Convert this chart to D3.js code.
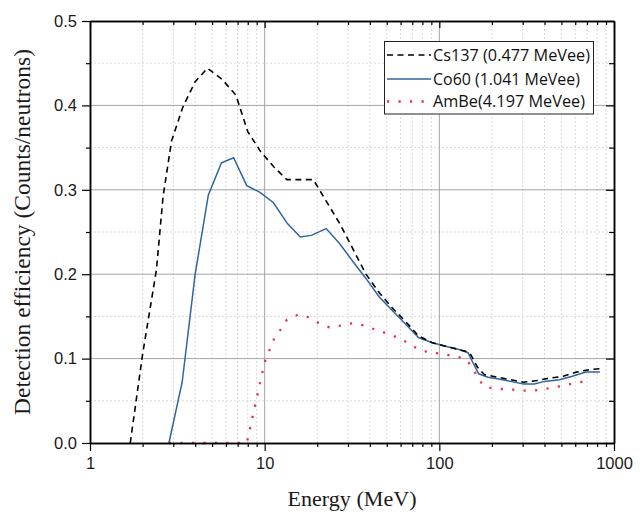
<!DOCTYPE html>
<html>
<head>
<meta charset="utf-8">
<script src="https://cdn.jsdelivr.net/npm/d3@7/dist/d3.min.js"></script>
<style>
  html, body { margin: 0; padding: 0; background: #fff; }
  svg { display: block; }
</style>
</head>
<body>
<svg id="chart" width="644" height="523"></svg>
<script>
// ---------------- data ----------------
const seriesNames = ["Cs137 (0.477 MeVee)", "Co60 (1.041 MeVee)", "AmBe(4.197 MeVee)"];

const csEnergy = [1.7, 2.0, 2.4, 2.62, 2.93, 3.4, 4.0, 4.7, 5.7, 6.85, 8.0, 9.5, 11.3, 13.4, 19.0, 22.6, 26.9, 32, 38, 45.3, 53.8, 64, 76, 90.5, 107, 128, 145, 152, 165, 181, 215, 256, 304, 362, 430, 512, 609, 724, 830];
const csEff    = [0, 0.105, 0.205, 0.292, 0.358, 0.398, 0.428, 0.444, 0.431, 0.412, 0.369, 0.345, 0.327, 0.312, 0.312, 0.286, 0.260, 0.230, 0.200, 0.178, 0.160, 0.144, 0.127, 0.119, 0.115, 0.111, 0.108, 0.104, 0.090, 0.081, 0.078, 0.075, 0.072, 0.074, 0.077, 0.079, 0.084, 0.087, 0.088];

const coEnergy = [2.83, 3.37, 4.0, 4.76, 5.66, 6.64, 7.9, 9.4, 11.2, 13.5, 16.0, 18.5, 22.5, 26.9, 32, 38, 45.3, 53.8, 64, 76, 90.5, 107, 128, 146, 155, 168, 190, 215, 256, 304, 350, 400, 487, 577, 690, 830];
const coEff    = [0, 0.072, 0.200, 0.294, 0.332, 0.338, 0.305, 0.297, 0.285, 0.260, 0.244, 0.246, 0.254, 0.236, 0.215, 0.195, 0.173, 0.157, 0.141, 0.125, 0.119, 0.115, 0.111, 0.107, 0.096, 0.082, 0.078, 0.076, 0.073, 0.070, 0.070, 0.073, 0.075, 0.079, 0.084, 0.084];

const abEnergy = [2.83, 7.9, 10.0, 11.3, 12.3, 13.4, 15.5, 17.8, 20.4, 23.5, 27, 32, 37.3, 43.4, 50, 57.6, 66.8, 76, 88, 103, 120, 140, 155, 165, 180, 210, 250, 292, 343, 400, 458, 540, 630, 740];
const abEff    = [0, 0, 0.096, 0.123, 0.134, 0.146, 0.152, 0.149, 0.142, 0.137, 0.139, 0.142, 0.139, 0.134, 0.130, 0.125, 0.118, 0.111, 0.107, 0.106, 0.103, 0.100, 0.090, 0.078, 0.067, 0.064, 0.064, 0.062, 0.062, 0.064, 0.066, 0.069, 0.072, 0.074];

const xMajorTicks = [1, 10, 100, 1000];
const xMinorTicks = [2,3,4,5,6,7,8,9,20,30,40,50,60,70,80,90,200,300,400,500,600,700,800,900];
const yMajorTicks = [0, 0.1, 0.2, 0.3, 0.4, 0.5];
const yMinorTicks = [0.05, 0.15, 0.25, 0.35, 0.45];

const xTitle = "Energy (MeV)";
const yTitle = "Detection efficiency (Counts/neutrons)";

// ---------------- layout ----------------
const L = 90, R = 614, T = 21, B = 443;
const svg = d3.select("#chart");
svg.append("rect").attr("width", 644).attr("height", 523).attr("fill", "#fff");

const x = d3.scaleLog().domain([1, 1000]).range([L, R]);
const y = d3.scaleLinear().domain([0, 0.5]).range([B, T]);

// grid
const grid = svg.append("g");
grid.selectAll(".vmin").data(xMinorTicks).enter().append("line")
  .attr("x1", d => x(d)).attr("x2", d => x(d)).attr("y1", T).attr("y2", B)
  .attr("stroke", "#d8d8d8").attr("stroke-width", 1).attr("stroke-dasharray", "2,2");
grid.selectAll(".hmin").data(yMinorTicks).enter().append("line")
  .attr("x1", L).attr("x2", R).attr("y1", d => y(d)).attr("y2", d => y(d))
  .attr("stroke", "#d8d8d8").attr("stroke-width", 1).attr("stroke-dasharray", "2,2");
grid.selectAll(".vmaj").data(xMajorTicks.slice(1, 3)).enter().append("line")
  .attr("x1", d => x(d)).attr("x2", d => x(d)).attr("y1", T).attr("y2", B)
  .attr("stroke", "#a4a4a4").attr("stroke-width", 1);
grid.selectAll(".hmaj").data(yMajorTicks.slice(1, 5)).enter().append("line")
  .attr("x1", L).attr("x2", R).attr("y1", d => y(d)).attr("y2", d => y(d))
  .attr("stroke", "#a4a4a4").attr("stroke-width", 1);

// series
const line = d3.line().x(d => x(d[0])).y(d => y(d[1]));
const zip = (a, b) => a.map((v, i) => [v, b[i]]);
const plot = svg.append("g");
plot.append("path").datum(zip(abEnergy, abEff)).attr("d", line)
  .attr("fill", "none").attr("stroke", "#ee2d4c").attr("stroke-width", 2.3)
  .attr("stroke-dasharray", "2.2,9.3");
plot.append("path").datum(zip(coEnergy, coEff)).attr("d", line)
  .attr("fill", "none").attr("stroke", "#2f649f").attr("stroke-width", 1.5);
plot.append("path").datum(zip(csEnergy, csEff)).attr("d", line)
  .attr("fill", "none").attr("stroke", "#000").attr("stroke-width", 1.6)
  .attr("stroke-dasharray", "6,4.5");

// axes
const tickFont = "'Liberation Sans', Arial, sans-serif";
function styleAxis(g) {
  g.selectAll("path").attr("stroke", "#000").attr("stroke-width", 1.5);
  g.selectAll("line").attr("stroke", "#000").attr("stroke-width", 1.2);
  g.selectAll("text").attr("font-family", tickFont).attr("font-size", 16.5).attr("fill", "#1a1a1a");
}
// left
svg.append("g").attr("transform", `translate(${L},0)`)
  .call(d3.axisLeft(y).tickValues(yMinorTicks).tickSize(4).tickSizeOuter(0).tickFormat(""))
  .call(styleAxis);
svg.append("g").attr("transform", `translate(${L},0)`)
  .call(d3.axisLeft(y).tickValues(yMajorTicks).tickSize(8).tickSizeOuter(0).tickPadding(5).tickFormat(d3.format(".1f")))
  .call(styleAxis);
// right (inward ticks)
svg.append("g").attr("transform", `translate(${R},0)`)
  .call(d3.axisLeft(y).tickValues(yMinorTicks).tickSize(5).tickSizeOuter(0).tickFormat(""))
  .call(styleAxis);
svg.append("g").attr("transform", `translate(${R},0)`)
  .call(d3.axisLeft(y).tickValues(yMajorTicks).tickSize(8).tickSizeOuter(0).tickFormat(""))
  .call(styleAxis);
// bottom
svg.append("g").attr("transform", `translate(0,${B})`)
  .call(d3.axisBottom(x).tickValues(xMinorTicks).tickSize(4).tickSizeOuter(0).tickFormat(""))
  .call(styleAxis);
svg.append("g").attr("transform", `translate(0,${B})`)
  .call(d3.axisBottom(x).tickValues(xMajorTicks).tickSize(8).tickSizeOuter(0).tickPadding(6.5).tickFormat(d3.format("d")))
  .call(styleAxis);
// top (inward ticks)
svg.append("g").attr("transform", `translate(0,${T})`)
  .call(d3.axisBottom(x).tickValues(xMinorTicks).tickSize(4).tickSizeOuter(0).tickFormat(""))
  .call(styleAxis);
svg.append("g").attr("transform", `translate(0,${T})`)
  .call(d3.axisBottom(x).tickValues(xMajorTicks).tickSize(7).tickSizeOuter(0).tickFormat(""))
  .call(styleAxis);

// titles
const serif = "'Liberation Serif', 'DejaVu Serif', serif";
svg.append("text").attr("x", (L + R) / 2).attr("y", 505.5)
  .attr("text-anchor", "middle").attr("font-family", serif).attr("font-size", 22)
  .attr("fill", "#1a1a1a").attr("textLength", 129).attr("lengthAdjust", "spacingAndGlyphs")
  .text(xTitle);
svg.append("text").attr("transform", `translate(30,${(T + B) / 2}) rotate(-90)`)
  .attr("text-anchor", "middle").attr("font-family", serif).attr("font-size", 23)
  .attr("fill", "#1a1a1a").attr("textLength", 366).attr("lengthAdjust", "spacingAndGlyphs")
  .text(yTitle);

// legend
const leg = svg.append("g");
leg.append("rect").attr("x", 384.5).attr("y", 41.5).attr("width", 209).attr("height", 72.5)
  .attr("fill", "#fff").attr("stroke", "#222").attr("stroke-width", 1);
const legStyles = [
  {stroke: "#000", w: 1.6, dash: "6,4.5"},
  {stroke: "#2f649f", w: 1.5, dash: null},
  {stroke: "#ee2d4c", w: 2.3, dash: "2.2,9.3"}
];
const legRowY = [55, 79, 101.5];
const legWidths = [157, 147, 152];
seriesNames.forEach((name, i) => {
  const s = legStyles[i];
  const ln = leg.append("line").attr("x1", 387).attr("x2", 431)
    .attr("y1", legRowY[i]).attr("y2", legRowY[i])
    .attr("stroke", s.stroke).attr("stroke-width", s.w);
  if (s.dash) ln.attr("stroke-dasharray", s.dash);
  leg.append("text").attr("x", 433).attr("y", legRowY[i] + 5.8)
    .attr("font-family", "'Open Sans', 'Liberation Sans', sans-serif").attr("font-size", 15.5)
    .attr("fill", "#111").attr("textLength", legWidths[i]).attr("lengthAdjust", "spacingAndGlyphs")
    .text(name);
});
</script>
</body>
</html>
